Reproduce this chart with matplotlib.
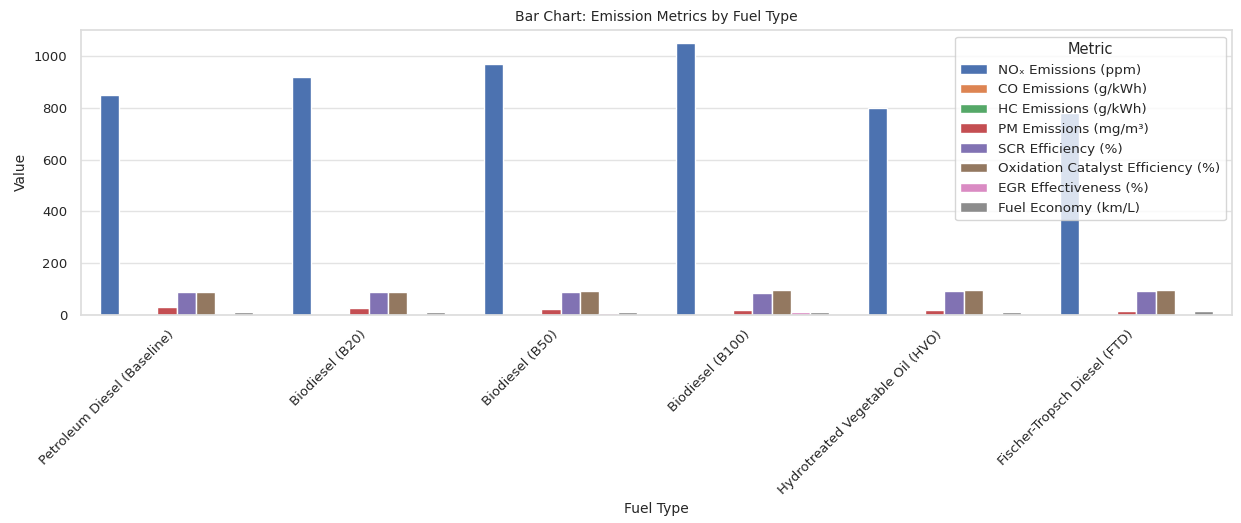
import numpy as np
import pandas as pd
import matplotlib
matplotlib.use("Agg")
import matplotlib.pyplot as plt
import seaborn as sns

## data
fuels = ["Petroleum Diesel (Baseline)", "Biodiesel (B20)", "Biodiesel (B50)",
         "Biodiesel (B100)", "Hydrotreated Vegetable Oil (HVO)", "Fischer-Tropsch Diesel (FTD)"]
metrics = ["NOₓ Emissions (ppm)", "CO Emissions (g/kWh)", "HC Emissions (g/kWh)",
           "PM Emissions (mg/m³)", "SCR Efficiency (%)", "Oxidation Catalyst Efficiency (%)",
           "EGR Effectiveness (%)", "Fuel Economy (km/L)"]
nox = [850, 920, 970, 1050, 800, 780]
co = [1.5, 1.3, 1.1, 0.9, 1.0, 0.8]
hc = [0.3, 0.25, 0.2, 0.15, 0.1, 0.1]
pm = [30, 27, 24, 20, 18, 15]
scr = [90, 88, 87, 85, 92, 93]
oxcat = [88, 90, 92, 95, 95, 96]
egr = [2, 5, 8, 10, 3, 4]
fuel_econ = [12, 11.5, 11, 10, 12.5, 13]

series = [nox, co, hc, pm, scr, oxcat, egr, fuel_econ]
rows = []
for m, vals in zip(metrics, series):
    for f, v in zip(fuels, vals):
        rows.append({"Fuel Type": f, "Metric": m, "Value": v})
df = pd.DataFrame(rows)

sns.set_theme(style="whitegrid")
plt.rcParams['font.family'] = ['DejaVu Sans']

fig, ax = plt.subplots(figsize=(12.41, 5.23), dpi=100)
sns.barplot(data=df, x="Fuel Type", y="Value", hue="Metric", ax=ax, saturation=1.0)

ax.set_title("Bar Chart: Emission Metrics by Fuel Type", fontsize=10)
ax.set_xlabel("Fuel Type", fontsize=10)
ax.set_ylabel("Value", fontsize=10)
ax.tick_params(axis='both', labelsize=9.5)
ax.xaxis.grid(False)
ax.yaxis.grid(True, color='#e3e3e3')
for s in ax.spines.values():
    s.set_color('#dddddd')
plt.setp(ax.get_xticklabels(), rotation=45, ha='right')
ax.legend(title="Metric", loc="upper right", fontsize=9.7, title_fontsize=10.5)

plt.subplots_adjust(left=0.065, right=0.993, top=0.943, bottom=0.398)
plt.savefig("out.png", dpi=100)
